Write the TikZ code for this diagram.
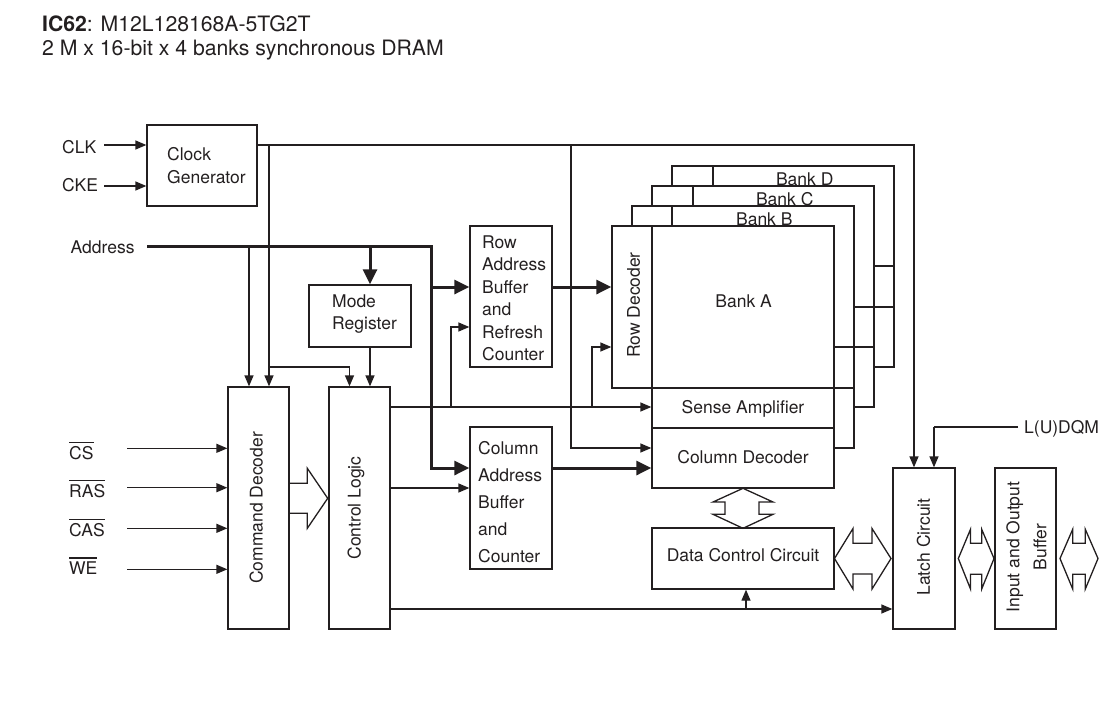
\documentclass[tikz,border=0pt]{standalone}
\usepackage{fontspec}
\setmainfont{TeX Gyre Heros}
\usetikzlibrary{arrows.meta}
\definecolor{ink}{RGB}{35,31,32}
\newcommand\myovl[1]{\setbox0\hbox{#1}\rlap{\rule[\dimexpr\ht0+3.2pt\relax]{\wd0}{1.2pt}}\box0}
\begin{document}
\begin{tikzpicture}[x=1pt,y=-1pt,
  lbl/.style={text=ink, inner sep=0pt, font=\fontsize{17.5}{21}\selectfont},
  box/.style={draw=ink, line width=1.3pt, inner sep=0pt},
  ln/.style={draw=ink, line width=1.3pt},
  tln/.style={draw=ink, line width=3pt},
  arr/.style={draw=ink, line width=1.3pt, -{Triangle[length=11pt,width=9pt]}},
  tarr/.style={draw=ink, line width=3pt, -{Triangle[length=15pt,width=14pt]}},
  hollow/.style={draw=ink, line width=1.3pt, line join=miter}]
\useasboundingbox (0,0) rectangle (1100,702);

% title
\node[lbl, anchor=base west, font=\fontsize{21.2}{25}\selectfont] (title1) at (42,31.5) {\textbf{IC62}: M12L128168A-5TG2T};
\node[lbl, anchor=base west, font=\fontsize{21.2}{25}\selectfont] (title2) at (42,55.5) {2 M x 16-bit x 4 banks synchronous DRAM};

% boxes
\node[box, minimum width=110, minimum height=81] (clkgen) at (202,165.5) {};
\node[box, minimum width=102, minimum height=62] (modereg) at (360,316) {};
\node[box, minimum width=61, minimum height=242] (cmd) at (258.5,508) {};
\node[box, minimum width=61, minimum height=242] (ctl) at (359.5,508) {};
\node[box, minimum width=82, minimum height=141] (rab) at (511,296.5) {};
\node[box, minimum width=82, minimum height=142] (cab) at (511,498) {};

% bank stack (behind)
\draw[ln] (672,186) -- (672,166) -- (894,166) -- (894,367) -- (874,367);
\draw[ln] (713,166) -- (713,186);
\draw[ln] (652,206) -- (652,186) -- (874,186) -- (874,407) -- (854,407);
\draw[ln] (693,186) -- (693,206);
\draw[ln] (632,226) -- (632,206) -- (854,206) -- (854,448) -- (834,448);
\draw[ln] (672,206) -- (672,226);
\draw[ln] (874,266) -- (894,266);
\draw[ln] (854,307) -- (894,307);
\draw[ln] (834,347) -- (874,347);
\draw[ln] (834,388) -- (854,388);

\node[box, minimum width=40, minimum height=162] (rowdec) at (632,307) {};
\node[box, minimum width=182, minimum height=162] (banka) at (743,307) {};
\node[box, minimum width=182, minimum height=40] (sense) at (743,408) {};
\node[box, minimum width=182, minimum height=60] (coldec) at (743,458) {};
\node[box, minimum width=182, minimum height=61] (dcc) at (743,558.5) {};
\node[box, minimum width=62, minimum height=161] (latch) at (924,548.5) {};
\node[box, minimum width=61, minimum height=161] (iob) at (1025.5,548.5) {};

% texts
\node[lbl, anchor=base west] (tclk) at (62,153.3) {CLK};
\node[lbl, anchor=base west] (tcke) at (62,191.7) {CKE};
\node[lbl, anchor=base west] (taddr) at (70.5,253.3) {Address};
\node[lbl, anchor=base west] (tcs) at (69,459.3) {\myovl{CS}};
\node[lbl, anchor=base west] (tras) at (69,497.5) {\myovl{RAS}};
\node[lbl, anchor=base west] (tcas) at (69,536.5) {\myovl{CAS}};
\node[lbl, anchor=base west] (twe) at (69,574.5) {\myovl{WE}};
\node[lbl, anchor=base west] (tdqm) at (1024,433) {L(U)DQM};

\node[lbl, anchor=west, align=left, font=\fontsize{17.5}{23}\selectfont] (tclkgen) at (167,165.2) {Clock\\Generator};
\node[lbl, anchor=west, align=left, font=\fontsize{17.5}{22}\selectfont] (tmode) at (332,314.3) {Mode\\Register};
\node[lbl, anchor=west, align=left, font=\fontsize{17.5}{22.5}\selectfont] (trab) at (482,298.2) {Row\\Address\\Buffer\\and\\Refresh\\Counter};
\node[lbl, anchor=west, align=left, font=\fontsize{17.5}{27.1}\selectfont] (tcab) at (478,502.2) {Column\\Address\\Buffer\\and\\Counter};

\node[lbl, rotate=90] (tcmd) at (256.3,508) {Command Decoder};
\node[lbl, rotate=90] (tctl) at (356,508) {Control Logic};
\node[lbl, rotate=90] (trow) at (633.5,305) {Row Decoder};
\node[lbl, rotate=90] (tlatch) at (923.5,547) {Latch Circuit};
\node[lbl, rotate=90, align=center, font=\fontsize{17.5}{27}\selectfont] (tiob) at (1026.5,547) {Input and Output\\Buffer};

\node[lbl, anchor=base] (tbanka) at (743.7,307.3) {Bank A};
\node[lbl, anchor=base] (tbankb) at (764.3,225) {Bank B};
\node[lbl, anchor=base] (tbankc) at (784.7,205) {Bank C};
\node[lbl, anchor=base] (tbankd) at (804.7,185) {Bank D};
\node[lbl, anchor=base] (tsense) at (743,413.3) {Sense Amplifier};
\node[lbl, anchor=base] (tcoldec) at (743,463.3) {Column Decoder};
\node[lbl, anchor=base] (tdcc) at (743,561.7) {Data Control Circuit};

% helper coordinates
\coordinate (clkin) at (104,145);
\coordinate (ckein) at (104,186);
\coordinate (clkout) at (257,145);
\coordinate (tap1) at (269,145);
\coordinate (tap1b) at (269,367);
\coordinate (tap2) at (571,145);
\coordinate (addrin) at (147,246);
\coordinate (ab1) at (249,246);
\coordinate (ab2) at (370,246);
\coordinate (abend) at (431,246);
\coordinate (y287) at (0,287);
\coordinate (y327) at (0,327);
\coordinate (y347) at (0,347);
\coordinate (y407) at (0,407);
\coordinate (y448) at (0,448);
\coordinate (y468) at (0,468);
\coordinate (y488) at (0,488);
\coordinate (y609) at (0,609);
\coordinate (br1) at (451,407);
\coordinate (br2) at (592,407);
\coordinate (br3) at (746,609);
\coordinate (dqmin) at (1018,427);
\coordinate (csin) at (127,448.3);
\coordinate (rasin) at (127,487.7);
\coordinate (casin) at (127,528.3);
\coordinate (wein) at (127,569.3);

% connectors
\draw[arr] (clkin) -- (clkin -| clkgen.west);
\draw[arr] (ckein) -- (ckein -| clkgen.west);
\draw[arr] (clkout) -| ([xshift=-10pt]latch.north);
\draw[arr] (tap1) -- (tap1 |- cmd.north);
\draw[arr] (tap1b) -| ([xshift=-10pt]ctl.north);
\draw[arr] (tap2) |- (coldec.west |- y448);

\draw[tarr] (addrin) -- (abend) |- (cab.west |- y468);
\draw[tarr] (abend |- y287) -- (rab.west |- y287);
\draw[arr] (ab1) -- (ab1 |- cmd.north);
\draw[tarr] (ab2) -- (ab2 |- modereg.north);
\draw[arr] (ab2 |- modereg.south) -- (ab2 |- ctl.north);

\draw[tarr] (rab.east |- y287) -- (rowdec.west |- y287);
\draw[tarr] (cab.east |- y468) -- (coldec.west |- y468);

\draw[arr] (ctl.east |- y407) -- (sense.west |- y407);
\draw[arr] (br1) |- (rab.west |- y327);
\draw[arr] (br2) |- (rowdec.west |- y347);
\draw[arr] (ctl.east |- y488) -- (cab.west |- y488);
\draw[arr] (ctl.east |- y609) -- (latch.west |- y609);
\draw[arr] (br3) -- (br3 |- dcc.south);
\draw[ln] (dqmin) -- (dqmin -| 934,0);
\draw[arr] (dqmin -| 934,0) -- ([xshift=10pt]latch.north);

\draw[arr] (csin) -- (csin -| cmd.west);
\draw[arr] (rasin) -- (rasin -| cmd.west);
\draw[arr] (casin) -- (casin -| cmd.west);
\draw[arr] (wein) -- (wein -| cmd.west);

% hollow bus arrows
\draw[hollow] (289,483.3) -- (307.3,483.3) -- (307.3,468.3) -- (327.7,498.3) -- (307.3,528.3) -- (307.3,513.3) -- (289,513.3);
\draw[hollow] (743,488.3) -- (773,502) -- (759,502) -- (759,514.3) -- (773,514.3) -- (743,528.3) -- (713,514.3) -- (725,514.3) -- (725,502) -- (713,502) -- cycle;
\draw[hollow] (834.5,558.5) -- (853,528.5) -- (853,543.3) -- (872,543.3) -- (872,528.5) -- (891,558.5) -- (872,589) -- (872,574) -- (853,574) -- (853,589) -- cycle;
\draw[hollow] (958.3,558.5) -- (970.5,529.3) -- (970.5,543.3) -- (981.7,543.3) -- (981.7,529.3) -- (994,558.5) -- (981.7,589) -- (981.7,574.3) -- (970.5,574.3) -- (970.5,589) -- cycle;
\draw[hollow] (1060,558.5) -- (1072.7,529.3) -- (1072.7,543.3) -- (1085.3,543.3) -- (1085.3,529.3) -- (1098,558.5) -- (1085.3,589) -- (1085.3,574.3) -- (1072.7,574.3) -- (1072.7,589) -- cycle;
\end{tikzpicture}
\end{document}
